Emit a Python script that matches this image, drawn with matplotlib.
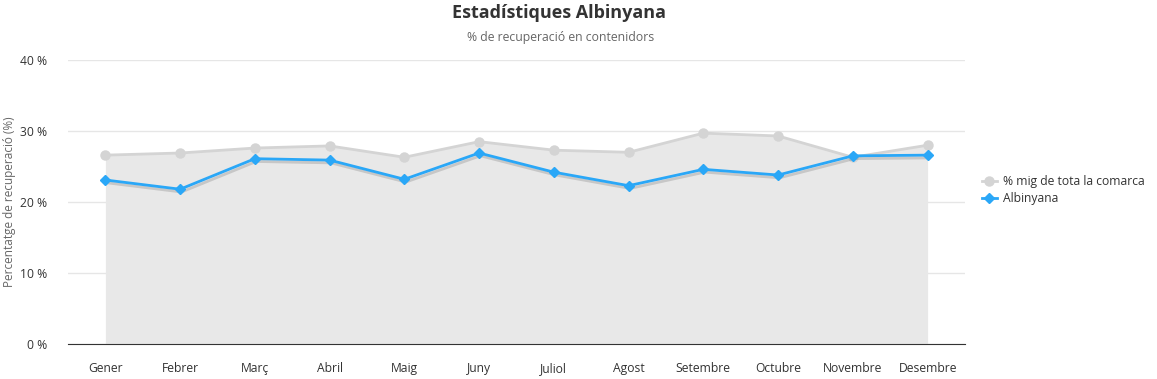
import matplotlib.pyplot as plt
import matplotlib.patheffects as pe
from matplotlib.lines import Line2D

months = ['Gener', 'Febrer', 'Març', 'Abril', 'Maig', 'Juny', 'Juliol',
          'Agost', 'Setembre', 'Octubre', 'Novembre', 'Desembre']
comarca = [26.6, 26.9, 27.6, 27.9, 26.3, 28.5, 27.3, 27.0, 29.7, 29.3, 26.3, 28.0]
albinyana = [23.1, 21.8, 26.1, 25.9, 23.2, 26.9, 24.2, 22.3, 24.6, 23.8, 26.5, 26.6]
yticks = [0, 10, 20, 30, 40]

plt.rcParams['font.family'] = ['Open Sans', 'DejaVu Sans']

fig = plt.figure(figsize=(11.57, 3.79), dpi=100)
ax = fig.add_axes([68 / 1157, 1 - 344 / 379, (965 - 68) / 1157, (344 - 60) / 379])

x = list(range(len(months)))
grey_line = '#d4d4d4'
blue = '#2aa7f7'

# grey area for the comarca average
ax.fill_between(x, comarca, 0, color='#e8e8e8', lw=0, zorder=1)
ax.plot(x, comarca, color=grey_line, lw=2, marker='o', ms=6.5, zorder=2)

# blue line with a soft shadow, markers drawn without it
shadow = [pe.SimpleLineShadow(offset=(1, -2), shadow_color='black', alpha=0.14), pe.Normal()]
ax.plot(x, albinyana, color=blue, lw=2, zorder=3, path_effects=shadow)
ax.plot(x, albinyana, color=blue, lw=0, marker='D', ms=5, zorder=4)

ax.set_xlim(-0.5, len(months) - 0.5)
ax.set_ylim(0, 40)
ax.set_yticks(yticks)
ax.set_yticklabels([f'{v} %' for v in yticks])
ax.set_xticks(x)
ax.set_xticklabels(months)
ax.tick_params(axis='both', length=0, labelsize=8.7, colors='#333333')
ax.tick_params(axis='x', pad=13)
ax.tick_params(axis='y', pad=15)
ax.grid(axis='y', color='#e6e6e6', lw=1, zorder=0)
ax.set_axisbelow(True)
for s in ['top', 'right', 'left']:
    ax.spines[s].set_visible(False)
ax.spines['bottom'].set_color('#333333')
ax.spines['bottom'].set_zorder(5)

fig.text(10 / 1157, 1 - 202 / 379, 'Percentatge de recuperació (%)', rotation=90,
         ha='center', va='center', fontsize=8.5, color='#666666')

fig.text(559 / 1157, 1 - 13 / 379, 'Estadístiques Albinyana', ha='center', va='center',
         fontsize=13, fontweight='bold', color='#333333')
fig.text(561 / 1157, 1 - 38 / 379, '% de recuperació en contenidors', ha='center', va='center',
         fontsize=8.8, color='#666666')

handles = [
    Line2D([], [], color=grey_line, lw=2, marker='o', ms=6.5),
    Line2D([], [], color=blue, lw=2, marker='D', ms=5),
]
fig.legend(handles, ['% mig de tota la comarca', 'Albinyana'],
           loc='center left', bbox_to_anchor=(982 / 1157, 1 - 190 / 379), frameon=False,
           fontsize=8.7, handlelength=1.2, handletextpad=0.5, labelspacing=0.35,
           borderpad=0, borderaxespad=0, labelcolor='#333333')

fig.savefig('out.png', dpi=100)
